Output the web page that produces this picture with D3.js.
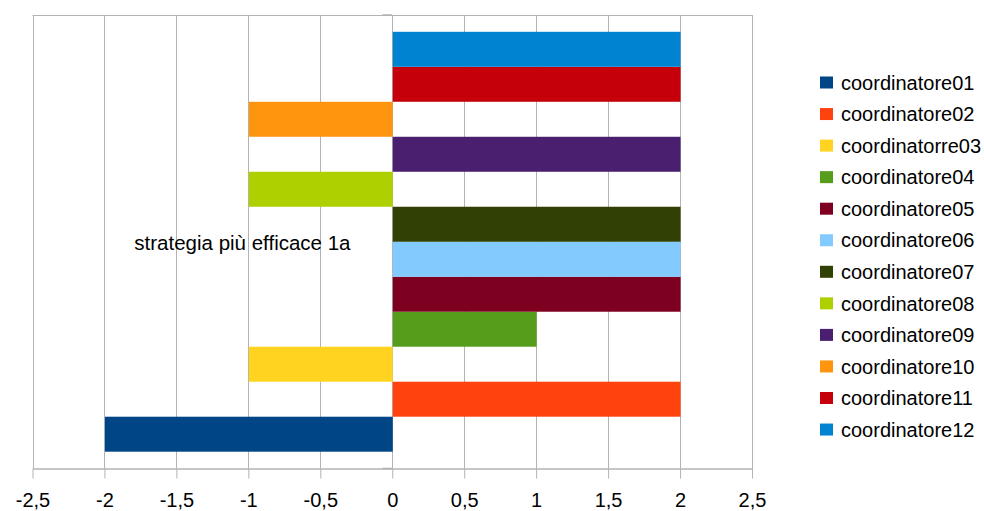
<!DOCTYPE html>
<html><head><meta charset="utf-8">
<script src="https://cdn.jsdelivr.net/npm/d3@7"></script>
<style>body{margin:0;background:#fff}svg{display:block;font-family:"Liberation Sans",Arial,sans-serif}</style>
</head><body><svg id="c" width="984" height="511"></svg>
<script>
const categories = ["strategia più efficace 1a"];
const seriesNames = ["coordinatore01","coordinatore02","coordinatorre03","coordinatore04","coordinatore05","coordinatore06","coordinatore07","coordinatore08","coordinatore09","coordinatore10","coordinatore11","coordinatore12"];
const seriesValues = [-2, 2, -1, 1, 2, 2, 2, -1, 2, -1, 2, 2];
const seriesColors = ["#004586","#ff420e","#ffd320","#579d1c","#7e0021","#83caff","#314004","#aecf00","#4b1f6f","#ff950e","#c5000b","#0084d1"];
const xTicks = [-2.5,-2,-1.5,-1,-0.5,0,0.5,1,1.5,2,2.5];

const svg = d3.select("#c");
const L = 32.5, R = 752, T = 15, B = 468.5;
const x = d3.scaleLinear().domain([-2.5, 2.5]).range([L, R]);
const y0 = d3.scaleBand().domain(categories).range([T, B]).paddingInner(0).paddingOuter(0.04);
const y1 = d3.scaleBand().domain(seriesNames.slice().reverse()).range([0, y0.bandwidth()]);
const fmt = v => String(v).replace(".", ",");

// gridlines
svg.append("g").selectAll("line").data(xTicks).join("line")
  .attr("x1", d => Math.round(x(d)) + 0.5).attr("x2", d => Math.round(x(d)) + 0.5)
  .attr("y1", T).attr("y2", B).attr("stroke", "#b3b3b3").attr("stroke-width", 1);
// top border
svg.append("line").attr("x1", L).attr("x2", R + 1).attr("y1", T + 0.5).attr("y2", T + 0.5).attr("stroke", "#b3b3b3");

// bars
categories.forEach(cat => {
  svg.append("g").selectAll("rect").data(seriesNames).join("rect")
    .attr("x", (d, i) => Math.min(x(0), x(seriesValues[i])) + 0.5)
    .attr("width", (d, i) => Math.abs(x(seriesValues[i]) - x(0)))
    .attr("y", d => y0(cat) + y1(d))
    .attr("height", y1.bandwidth())
    .attr("fill", (d, i) => seriesColors[i]);
});

// x axis
const xAxis = d3.axisBottom(x).tickValues(xTicks).tickFormat(fmt).tickSize(10).tickSizeOuter(0).tickPadding(14);
const gx = svg.append("g").attr("transform", `translate(0,${B})`).call(xAxis);
gx.select(".domain").attr("stroke", "#b3b3b3").attr("stroke-width", 1.5);
gx.selectAll(".tick line").attr("stroke", "#b3b3b3");
gx.selectAll(".tick text").attr("fill", "#000").style("font-size", "20px").attr("font-family", "Liberation Sans, Arial, sans-serif");

// y axis at zero (category axis)
const yAxis = d3.axisLeft(d3.scaleBand().domain(categories).range([T, B])).tickSize(0).tickFormat(d => d);
const gy = svg.append("g").attr("transform", `translate(${Math.round(x(0)) + 0.5},0)`).call(yAxis);
gy.select(".domain").remove();
gy.selectAll(".tick text").attr("fill", "#000").style("font-size", "20.5px")
  .attr("font-family", "Liberation Sans, Arial, sans-serif").attr("x", -42).attr("dy", "0.42em");
[T, B].forEach(yy => svg.append("line").attr("x1", x(0) - 10).attr("x2", x(0)).attr("y1", yy).attr("y2", yy).attr("stroke", "#b3b3b3").attr("stroke-width", 1.5));

// legend
const lg = svg.append("g").attr("transform", "translate(820,82.5)");
const items = lg.selectAll("g").data(seriesNames).join("g").attr("transform", (d, i) => `translate(0,${i * 31.55})`);
items.append("rect").attr("x", 0).attr("y", -6).attr("width", 13).attr("height", 12).attr("fill", (d, i) => seriesColors[i]);
items.append("text").attr("x", 21).attr("y", 0).attr("dy", "0.36em").style("font-size", "20px").attr("fill", "#000").text(d => d);
</script></body></html>
